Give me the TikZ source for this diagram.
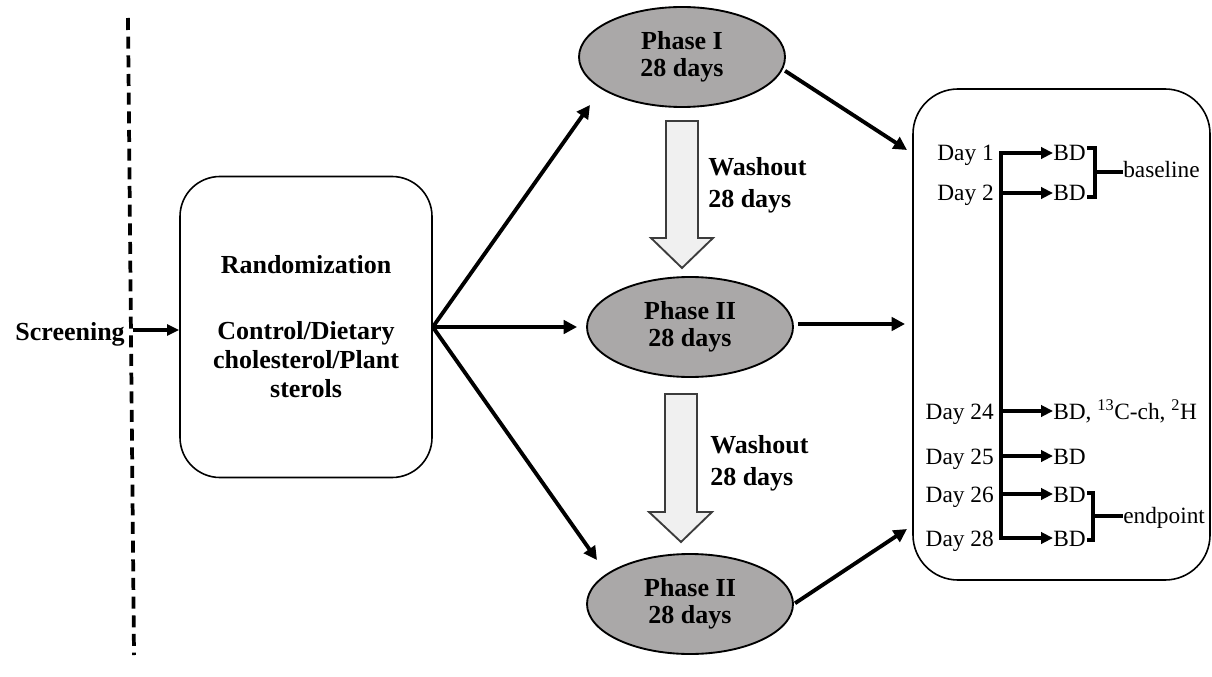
\documentclass[tikz,border=0pt]{standalone}
\usepackage{fontspec}
\setmainfont{Liberation Serif}
\usetikzlibrary{arrows.meta,shapes.geometric,calc}
\definecolor{phgray}{RGB}{170,168,168}
\definecolor{washfill}{RGB}{240,240,240}
\definecolor{washline}{RGB}{60,60,60}
\begin{document}
\begin{tikzpicture}[x=0.75pt,y=-0.75pt,
  bigtxt/.style={font=\fontsize{19.5}{20.25}\selectfont\bfseries},
  daytxt/.style={font=\fontsize{17.5}{20}\selectfont,inner sep=0pt},
  phase/.style={ellipse,draw=black,line width=1.4pt,fill=phgray,minimum width=154.5pt,minimum height=75pt,align=center,bigtxt,inner sep=0pt},
  roundbox/.style={draw=black,line width=1.2pt,fill=white,rounded corners=#1},
  conn/.style={line width=2.9pt,-{Triangle[length=10pt,width=10pt]}},
  dayarrow/.style={line width=2.6pt,-{Triangle[length=9pt,width=8.5pt]}},
  brk/.style={line width=2.6pt,line join=miter},
  washarrow/.style={draw=washline,fill=washfill,line width=1.4pt,line join=miter},
  washtxt/.style={font=\fontsize{19.5}{24}\selectfont\bfseries,align=left,anchor=north west,inner sep=0pt}
]
\useasboundingbox (0,0) rectangle (1212,677);

% dashed screening line
\draw[line width=2.8pt,dash pattern=on 9pt off 5pt] (128,18) -- (134,655);

% Screening and randomization
\node[bigtxt,anchor=base east,inner sep=0pt] (scr) at (125,340) {Screening};
\node[roundbox=30pt,minimum width=189pt,minimum height=225.75pt,align=center,font=\fontsize{19.5}{22}\selectfont\bfseries] (rand) at (306,327)
  {Randomization\\[27pt]Control/Dietary\\cholesterol/Plant\\sterols};
\coordinate (scrs) at (133,330);
\draw[line width=2.6pt,-{Triangle[length=9pt,width=8pt]}] (scrs) -- (scrs -| rand.west);

% phases
\node[phase] (ph1) at (682,57) {Phase I\\28 days};
\node[phase] (ph2) at (690,327) {Phase II\\28 days};
\node[phase] (ph3) at (690,604) {Phase II\\28 days};

% washout block arrows
\draw[washarrow] (666,121) -- (698,121) -- (698,238) -- (713,238) -- (682,268) -- (651,238) -- (666,238) -- cycle;
\draw[washarrow] (665,394) -- (697,394) -- (697,512) -- (712,512) -- (681,542) -- (649,512) -- (665,512) -- cycle;
\node[washtxt] (w1) at (708,157) {Washout\\28 days};
\node[washtxt] (w2) at (710,435) {Washout\\28 days};

% fan from randomization
\coordinate (t1) at (590,105);
\coordinate (t3) at (597,560);
\draw[conn] (rand.east) -- (t1);
\draw[conn,shorten >=6.75pt] (rand.east) -- (ph2.west);
\draw[conn] (rand.east) -- (t3);

% right box
\node[roundbox=33.75pt,minimum width=222.75pt,minimum height=368.25pt] (days) at (1061.5,334.5) {};

% arrows into the right box
\coordinate (e1) at (907,150);
\coordinate (e2) at (905,324);
\coordinate (e3) at (907,529);
\draw[conn,shorten <=2pt] (ph1.-7) -- (e1);
\draw[conn,shorten <=3pt] (ph2.east |- e2) -- (e2);
\draw[conn,shorten <=1pt] (ph3.east) -- (e3);

% day rows
\foreach \n/\y/\lab/\res in {1/153/Day 1/BD, 2/193/Day 2/BD, 3/411/Day 24/{BD, \textsuperscript{13}C-ch, \textsuperscript{2}H}, 4/456/Day 25/BD, 5/494/Day 26/BD, 6/538/Day 28/BD}{
  \coordinate (L\n) at (1001,\y);
  \node[daytxt,anchor=base east] (d\n) at (994,\y+8) {\lab};
  \node[daytxt,anchor=base west] (bd\n) at (1053,\y+8) {\res};
  \draw[dayarrow] (L\n) -- (L\n -| bd\n.west);
}
\draw[line width=2.8pt] (1001,151.5) -- (1001,539.5);

% brackets
\coordinate (b1) at (1095,148);
\coordinate (b2) at (1095,197);
\coordinate (bm) at (1095,172);
\node[daytxt,anchor=base west] (base) at (1123,178) {baseline};
\draw[brk] (1087,148) -- (b1) -- (b2) -- (1087,197);
\draw[brk] (bm) -- (bm -| base.west);

\coordinate (c1) at (1093,493);
\coordinate (c2) at (1093,540);
\coordinate (cm) at (1093,516);
\node[daytxt,anchor=base west] (endp) at (1123,523) {endpoint};
\draw[brk] (1087,493) -- (c1) -- (c2) -- (1087,540);
\draw[brk] (cm) -- (cm -| endp.west);
\end{tikzpicture}
\end{document}
